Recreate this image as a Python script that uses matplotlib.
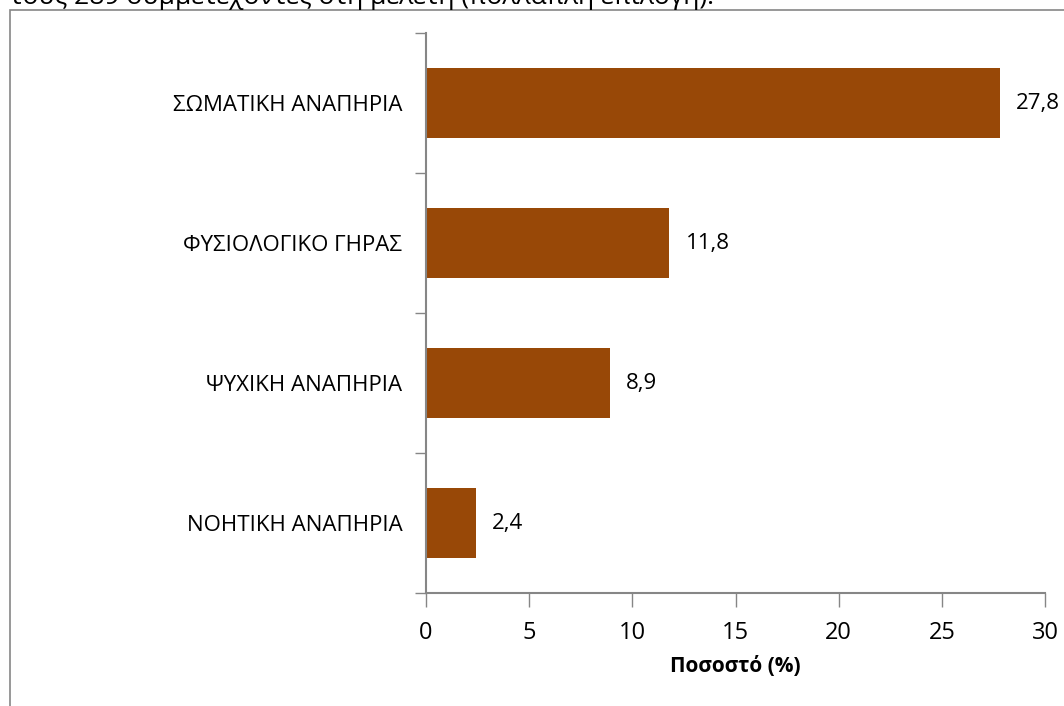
import matplotlib.pyplot as plt
from matplotlib.patches import Rectangle

categories = ['ΝΟΗΤΙΚΗ ΑΝΑΠΗΡΙΑ', 'ΨΥΧΙΚΗ ΑΝΑΠΗΡΙΑ', 'ΦΥΣΙΟΛΟΓΙΚΟ ΓΗΡΑΣ', 'ΣΩΜΑΤΙΚΗ ΑΝΑΠΗΡΙΑ']
values = [2.4, 8.9, 11.8, 27.8]
x_ticks = [0, 5, 10, 15, 20, 25, 30]

BAR_COLOR = '#984807'
AXIS_COLOR = '#868686'
FONT = ['Open Sans', 'DejaVu Sans']

plt.rcParams['font.family'] = FONT

W, H = 1064, 706
fig = plt.figure(figsize=(W / 100, H / 100), dpi=100)

# chart frame, runs off the right and bottom edges
fig.patches.append(Rectangle((10 / W, -0.1), 1.2, 1 - 10 / H + 0.1, transform=fig.transFigure,
                             fill=False, edgecolor=AXIS_COLOR, linewidth=1.2))
# caption line above the frame, only its lower part shows
fig.text(10 / W, 1 - 4 / H, 'τους 289 συμμετέχοντες στη μελέτη (πολλαπλή επιλογή).',
         fontsize=19, ha='left', va='baseline', color='black')

ax = fig.add_axes([426 / W, 1 - 593 / H, (1045 - 426) / W, (593 - 33) / H])
pos = list(range(len(categories)))
ax.barh(pos, values, height=0.5, color=BAR_COLOR)
ax.set_xlim(0, 30)
ax.set_ylim(-0.5, len(categories) - 0.5)
ax.set_xticks(x_ticks)
ax.set_xticklabels([str(t) for t in x_ticks], fontsize=17)
ax.set_yticks(pos)
ax.set_yticklabels(categories, fontsize=16)
ax.set_yticks([p - 0.5 for p in range(len(categories) + 1)], minor=True)
ax.tick_params(axis='y', which='major', length=0, pad=17)
ax.tick_params(axis='y', which='minor', length=8, color=AXIS_COLOR, width=1)
ax.tick_params(axis='x', length=10, color=AXIS_COLOR, width=1, pad=10)
for side in ['top', 'right']:
    ax.spines[side].set_visible(False)
for side in ['left', 'bottom']:
    ax.spines[side].set_color(AXIS_COLOR)
    ax.spines[side].set_linewidth(1.5)

for p, v in zip(pos, values):
    ax.annotate(f'{v:.1f}'.replace('.', ','), (v, p), xytext=(12, 0), textcoords='offset points',
                va='center', ha='left', fontsize=16, annotation_clip=False)

ax.set_xlabel('Ποσοστό (%)', fontsize=15, fontweight='bold', labelpad=8)

fig.savefig('out.png', dpi=100)
